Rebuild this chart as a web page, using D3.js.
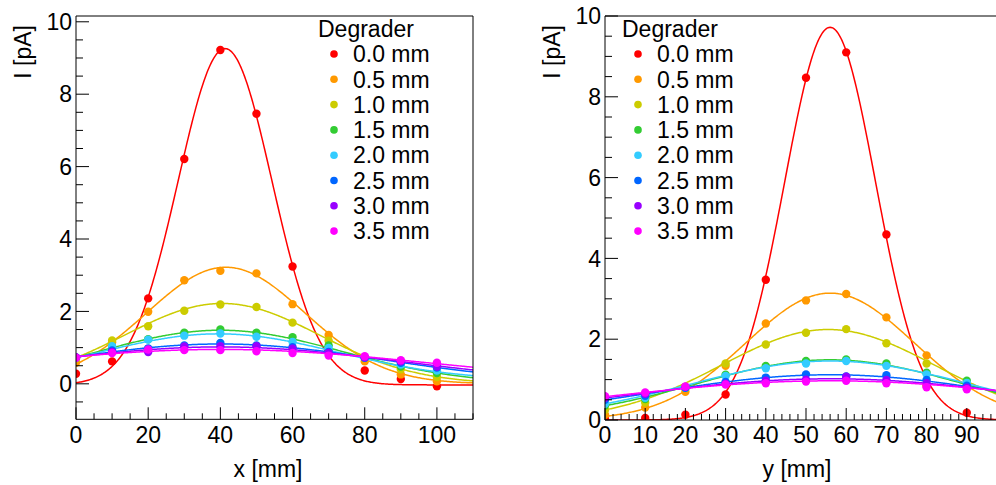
<!DOCTYPE html>
<html>
<head>
<meta charset="utf-8">
<script src="https://cdn.jsdelivr.net/npm/d3@7/dist/d3.min.js"></script>
<style>
html,body{margin:0;padding:0;background:#fff;}
svg{display:block;font-family:"Liberation Sans",Arial,Helvetica,sans-serif;}
</style>
</head>
<body>
<svg id="chart" width="996" height="485"></svg>
<script>
// ---------------- data ----------------
const degraders = ["0.0 mm","0.5 mm","1.0 mm","1.5 mm","2.0 mm","2.5 mm","3.0 mm","3.5 mm"];
const colors = ["#ff0000","#ff9900","#cccc00","#33cc33","#33ccff","#0066ff","#9900ff","#ff00ff"];

// left panel: x scan
const xPos = [0,10,20,30,40,50,60,70,80,90,100];
const xRed     = [0.28,0.62,2.36,6.21,9.22,7.46,3.24,0.90,0.37,0.13,-0.07];
const xOrange  = [0.58,1.15,1.99,2.86,3.12,3.05,2.20,1.35,0.62,0.26,0.07];
const xYellow  = [0.70,1.20,1.59,2.02,2.19,2.12,1.69,1.19,0.72,0.40,0.19];
const xGreen   = [0.72,1.02,1.23,1.41,1.50,1.41,1.29,1.06,0.72,0.48,0.30];
const xCyan    = [0.72,1.04,1.22,1.33,1.39,1.30,1.16,0.99,0.73,0.53,0.37];
const xBlue    = [0.73,0.92,0.98,1.06,1.13,1.06,1.01,0.88,0.72,0.58,0.45];
const xPurple  = [0.73,0.88,0.88,1.03,1.04,1.04,0.97,0.85,0.73,0.62,0.48];
const xMagenta = [0.72,0.85,0.95,0.93,0.93,0.90,0.85,0.78,0.76,0.65,0.58];
// gaussian fit parameters (amplitude, mean, sigma, constant)
const xFitAmp   = [9.29,3.22,2.22,1.48,1.28,1.10,1.02,0.95];
const xFitMean  = [41.3,41.5,40.5,40.0,39.5,40.0,40.0,40.0];
const xFitSigma = [13.0,22.0,27.0,33.6,32.8,45.0,50.0,58.0];
const xFitConst = [-0.03,0,0,0,0.10,0,0,0];

// right panel: y scan
const yPos = [0,10,20,30,40,50,60,70,80,90];
const yRed     = [0.02,0.05,0.13,0.63,3.47,8.47,9.10,4.59,0.85,0.18];
const yOrange  = [0.13,0.31,0.70,1.34,2.39,2.96,3.12,2.54,1.60,0.85];
const yYellow  = [0.25,0.43,0.82,1.40,1.87,2.16,2.25,1.90,1.40,0.90];
const yGreen   = [0.36,0.52,0.80,1.12,1.34,1.46,1.50,1.40,1.17,0.97];
const yCyan    = [0.40,0.55,0.80,1.09,1.28,1.40,1.46,1.34,1.13,0.92];
const yBlue    = [0.50,0.60,0.80,0.94,1.05,1.13,1.08,1.11,0.99,0.85];
const yPurple  = [0.55,0.65,0.82,0.90,0.97,1.00,1.07,0.99,0.91,0.80];
const yMagenta = [0.59,0.68,0.83,0.88,0.91,0.95,0.97,0.91,0.81,0.76];
const yFitAmp   = [9.72,3.14,2.24,1.49,1.46,1.12,1.02,0.97];
const yFitMean  = [56.0,56.0,55.5,56.0,56.0,56.0,56.0,56.0];
const yFitSigma = [11.3,21.0,26.5,33.0,34.8,44.0,50.0,55.0];
const yFitConst = [0,0,0,0,0,0,0,0];

const xTicksMajor = [0,20,40,60,80,100];
const yTicksMajorL = [0,2,4,6,8,10];
const yTicksMajorR = [0,2,4,6,8,10];
const xTicksMajorR = [0,10,20,30,40,50,60,70,80,90];

// ---------------- drawing ----------------
const svg = d3.select("#chart");
const FS = 23;

function panel(cfg){
  const g = svg.append("g");
  const xs = d3.scaleLinear().domain(cfg.xDomain).range([cfg.left, cfg.right]);
  const ys = d3.scaleLinear().domain(cfg.yDomain).range([cfg.bottom, cfg.top]);
  const clipId = "clip" + cfg.id;
  svg.append("clipPath").attr("id", clipId).append("rect")
    .attr("x", cfg.left).attr("y", cfg.top)
    .attr("width", cfg.right - cfg.left).attr("height", cfg.bottom - cfg.top);

  // series
  const plot = g.append("g").attr("clip-path", `url(#${clipId})`);
  const line = d3.line().x(d => xs(d[0])).y(d => ys(d[1]));
  cfg.series.forEach((vals, i) => {
    const pts = [];
    const [x0, x1] = cfg.xDomain;
    for (let k = 0; k <= 400; k++) {
      const x = x0 + (x1 - x0) * k / 400;
      const dx = x - cfg.fitMean[i];
      pts.push([x, cfg.fitConst[i] + cfg.fitAmp[i] * Math.exp(-dx*dx/(2*cfg.fitSigma[i]*cfg.fitSigma[i]))]);
    }
    plot.append("path").attr("d", line(pts)).attr("fill","none")
      .attr("stroke", colors[i]).attr("stroke-width", 1.5);
    plot.selectAll(null).data(vals.map((v, j) => [cfg.xs[j], v])).enter()
      .append("circle").attr("cx", d => xs(d[0])).attr("cy", d => ys(d[1]))
      .attr("r", 4.2).attr("fill", colors[i]);
  });

  // frame
  g.append("path").attr("fill","none").attr("stroke","#000").attr("stroke-width",1)
    .attr("d", `M${cfg.left},${cfg.top}H${cfg.right}V${cfg.bottom}H${cfg.left}Z`);

  // x ticks
  const xMinor = d3.range(cfg.xDomain[0], cfg.xDomain[1] + 1e-6, cfg.xMinorStep);
  xMinor.forEach(t => {
    const major = cfg.xMajor.includes(t);
    g.append("line").attr("x1", xs(t)).attr("x2", xs(t))
      .attr("y1", cfg.bottom).attr("y2", cfg.bottom - (major ? 12 : 6))
      .attr("stroke","#000").attr("stroke-width",1);
  });
  cfg.xMajor.forEach(t => {
    g.append("text").attr("x", xs(t)).attr("y", 443).attr("text-anchor","middle")
      .attr("font-size", FS).text(t);
  });
  // y ticks
  const yStart = Math.ceil(cfg.yDomain[0] / cfg.yMinorStep) * cfg.yMinorStep;
  const yMinor = d3.range(yStart, cfg.yDomain[1] + 1e-6, cfg.yMinorStep);
  yMinor.forEach(t => {
    const major = cfg.yMajor.some(m => Math.abs(m - t) < 1e-6);
    g.append("line").attr("y1", ys(t)).attr("y2", ys(t))
      .attr("x1", cfg.left).attr("x2", cfg.left + (major ? 13 : 7))
      .attr("stroke","#000").attr("stroke-width",1);
  });
  cfg.yMajor.forEach(t => {
    g.append("text").attr("x", cfg.left - 4).attr("y", ys(t)).attr("text-anchor","end")
      .attr("dy","0.36em").attr("font-size", FS).text(t);
  });

  // axis titles
  g.append("text").attr("x", cfg.xTitleX).attr("y", 477).attr("text-anchor","middle")
    .attr("font-size", FS).text(cfg.xTitle);
  g.append("text").attr("transform", `translate(${cfg.yTitleX},25) rotate(-90)`)
    .attr("text-anchor","end").attr("font-size", FS).text("I [pA]");

  // legend
  const lg = g.append("g");
  lg.append("text").attr("x", cfg.legX).attr("y", 28.5).attr("dy","0.36em")
    .attr("font-size", FS).text("Degrader");
  degraders.forEach((d, i) => {
    const yy = 54 + i * 25.3;
    lg.append("circle").attr("cx", cfg.legX + 16).attr("cy", yy).attr("r", 3.8).attr("fill", colors[i]);
    lg.append("text").attr("x", cfg.legX + 35).attr("y", yy).attr("dy","0.36em")
      .attr("font-size", FS).text(d);
  });
}

panel({
  id: "L", left: 76, right: 473, top: 16, bottom: 419.3,
  xDomain: [0,110], yDomain: [-0.98,10.16],
  xs: xPos, series: [xRed,xOrange,xYellow,xGreen,xCyan,xBlue,xPurple,xMagenta],
  fitAmp: xFitAmp, fitMean: xFitMean, fitSigma: xFitSigma, fitConst: xFitConst,
  xMajor: xTicksMajor, xMinorStep: 5, yMajor: yTicksMajorL, yMinorStep: 0.5,
  xTitle: "x [mm]", xTitleX: 268, yTitleX: 31, legX: 318
});
panel({
  id: "R", left: 605, right: 1007, top: 16, bottom: 420,
  xDomain: [0,100], yDomain: [0,10],
  xs: yPos, series: [yRed,yOrange,yYellow,yGreen,yCyan,yBlue,yPurple,yMagenta],
  fitAmp: yFitAmp, fitMean: yFitMean, fitSigma: yFitSigma, fitConst: yFitConst,
  xMajor: xTicksMajorR, xMinorStep: 2, yMajor: yTicksMajorR, yMinorStep: 0.5,
  xTitle: "y [mm]", xTitleX: 797, yTitleX: 560, legX: 622
});
</script>
</body>
</html>
